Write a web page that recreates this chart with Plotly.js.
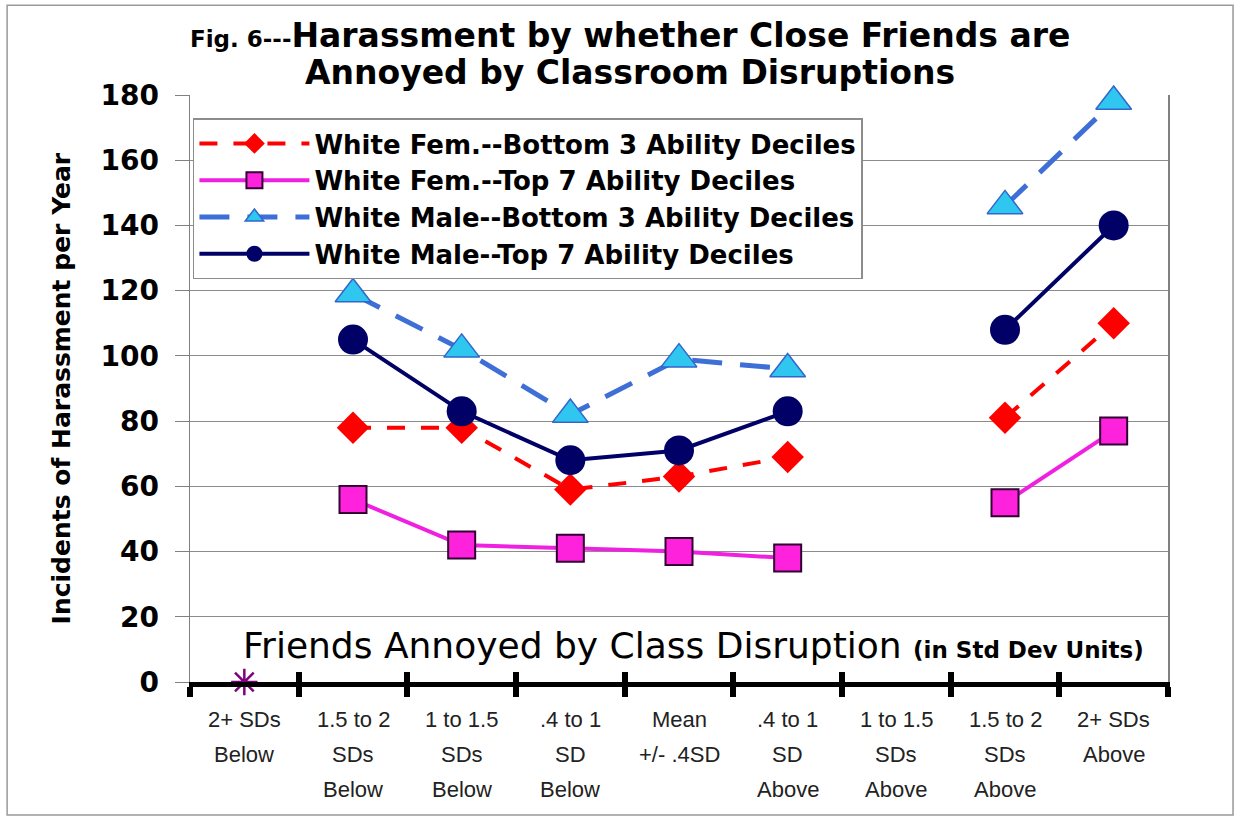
<!DOCTYPE html>
<html>
<head>
<meta charset="utf-8">
<script src="https://cdn.plot.ly/plotly-3.0.1.min.js"></script>
<style>
  html, body { margin: 0; padding: 0; background: #fff; }
  #chart { width: 1235px; height: 818px; }
</style>
</head>
<body>
<div id="chart"></div>
<script>
// Fig. 6 - harassment by friends' annoyance with class disruption

const categories = ['2+ SDs Below', '1.5 to 2 SDs Below', '1 to 1.5 SDs Below', '.4 to 1 SD Below',
    'Mean +/- .4SD', '.4 to 1 SD Above', '1 to 1.5 SDs Above', '1.5 to 2 SDs Above', '2+ SDs Above'];
const tickLines = [
    ['2+ SDs', 'Below'],
    ['1.5 to 2', 'SDs', 'Below'],
    ['1 to 1.5', 'SDs', 'Below'],
    ['.4 to 1', 'SD', 'Below'],
    ['Mean', '+/- .4SD'],
    ['.4 to 1', 'SD', 'Above'],
    ['1 to 1.5', 'SDs', 'Above'],
    ['1.5 to 2', 'SDs', 'Above'],
    ['2+ SDs', 'Above']
];

const femBottom  = [null, 78, 78, 59, 63, 69, null, 81, 110];
const femTop     = [null, 56, 42, 41, 40, 38, null, 55, 77];
const maleBottom = [null, 119, 102, 82, 99, 96, null, 146, 178];
const maleTop    = [null, 105, 83, 68, 71, 83, null, 108, 140];
const starX = ['2+ SDs Below'];
const starY = [0];

const seriesNames = [
    'White Fem.--Bottom 3 Ability Deciles',
    'White Fem.--Top 7 Ability Deciles',
    'White Male--Bottom 3 Ability Deciles',
    'White Male--Top 7 Ability Deciles'
];

const BOLD = 'DejaVu Sans, Arial';

const data = [
    {
        x: categories, y: femBottom, name: seriesNames[0], cliponaxis: false,
        type: 'scatter', mode: 'lines+markers', connectgaps: false,
        line: { color: '#ff0000', width: 4, dash: '18px,16px' },
        marker: { symbol: 'diamond', size: 25, color: '#ff0000' }
    },
    {
        x: categories, y: femTop, name: seriesNames[1], cliponaxis: false,
        type: 'scatter', mode: 'lines+markers', connectgaps: false,
        line: { color: '#f020e0', width: 4 },
        marker: { symbol: 'square', size: 27, color: '#ff22dd', line: { color: '#330033', width: 2 } }
    },
    {
        x: categories, y: maleBottom, name: seriesNames[2], cliponaxis: false,
        type: 'scatter', mode: 'lines+markers', connectgaps: false,
        line: { color: '#3d6fd6', width: 5, dash: '30px,18px' },
        marker: { symbol: 'triangle-up', size: 31, color: '#2fc6ef', line: { color: '#3366cc', width: 1.5 } }
    },
    {
        x: categories, y: maleTop, name: seriesNames[3], cliponaxis: false,
        type: 'scatter', mode: 'lines+markers', connectgaps: false,
        line: { color: '#000066', width: 4 },
        marker: { symbol: 'circle', size: 30, color: '#000066' }
    },
    {
        x: starX, y: starY, showlegend: false, cliponaxis: false,
        type: 'scatter', mode: 'markers',
        marker: { symbol: 'asterisk-open', size: 22, color: '#800080', line: { color: '#800080', width: 2.5 } }
    },
    // carries the upper half of the boundary ticks
    {
        x: categories, y: categories.map(() => null), xaxis: 'x2',
        showlegend: false, hoverinfo: 'skip', type: 'scatter', mode: 'markers'
    }
];

// x tick labels, one annotation per line for the wide line spacing
const annotations = [];
tickLines.forEach((lines, i) => {
    lines.forEach((txt, j) => {
        annotations.push({
            x: categories[i], xref: 'x', y: -0.0647 - j * 0.0596, yref: 'paper',
            text: txt, showarrow: false, xanchor: 'center', yanchor: 'middle',
            font: { family: 'Liberation Sans, Arial', size: 22, color: '#222' }
        });
    });
});

annotations.push(
    {
        x: 0.45, xref: 'paper', y: 1.102, yref: 'paper', showarrow: false,
        xanchor: 'center', yanchor: 'middle',
        text: '<span style="font-size:23px">Fig. 6---</span>Harassment by whether Close Friends are',
        font: { family: BOLD, size: 33, color: '#000', weight: 'bold' }
    },
    {
        x: 0.45, xref: 'paper', y: 1.0375, yref: 'paper', showarrow: false,
        xanchor: 'center', yanchor: 'middle',
        text: 'Annoyed by Classroom Disruptions',
        font: { family: BOLD, size: 33, color: '#000', weight: 'bold' }
    },
    {
        x: 0.515, xref: 'paper', y: 0.063, yref: 'paper', showarrow: false,
        xanchor: 'center', yanchor: 'middle',
        text: 'Friends Annoyed by Class Disruption <span style="font-size:23px"><b>(in Std Dev Units)</b></span>',
        font: { family: BOLD, size: 36, color: '#000' }
    },
    {
        x: -0.131, xref: 'paper', y: 0.5, yref: 'paper', showarrow: false,
        xanchor: 'center', yanchor: 'middle', textangle: -90,
        text: 'Incidents of Harassment per Year',
        font: { family: BOLD, size: 25, color: '#000', weight: 'bold' }
    }
);

const xBase = {
    type: 'category', categoryorder: 'array', categoryarray: categories,
    range: [-0.5, 8.5], tickson: 'boundaries', ticklen: 10, tickwidth: 6,
    tickcolor: '#000', showticklabels: false, showgrid: false, zeroline: false,
    fixedrange: true
};

const layout = {
    width: 1235, height: 818,
    margin: { l: 190, r: 67, t: 95, b: 136 },
    paper_bgcolor: '#fff', plot_bgcolor: '#fff',
    showlegend: true,
    legend: {
        x: 0.003, y: 0.96, xanchor: 'left', yanchor: 'top',
        bgcolor: '#fff', bordercolor: '#8c8c8c', borderwidth: 1.5,
        itemwidth: 110, tracegroupgap: 0,
        font: { family: BOLD, size: 26, color: '#000', weight: 'bold' }
    },
    xaxis: Object.assign({}, xBase, {
        ticks: 'outside', showline: true, linecolor: '#000', linewidth: 5
    }),
    xaxis2: Object.assign({}, xBase, {
        overlaying: 'x', anchor: 'y', side: 'bottom', ticks: 'inside', showline: false
    }),
    yaxis: {
        range: [0, 180], dtick: 20, fixedrange: true,
        showgrid: true, gridcolor: '#8c8c8c', gridwidth: 1,
        showline: true, linecolor: '#808080', linewidth: 1.5, mirror: true,
        ticks: 'outside', ticklen: 14, tickwidth: 1, tickcolor: '#808080',
        ticklabelstandoff: 10, zeroline: false,
        tickfont: { family: BOLD, size: 28, color: '#000', weight: 'bold' }
    },
    annotations: annotations,
    shapes: [{
        type: 'rect', xref: 'paper', yref: 'paper',
        x0: -0.187, x1: 1.0665, y0: -0.2266, y1: 1.153,
        line: { color: '#999', width: 1.5 }
    }]
};

Plotly.newPlot('chart', data, layout, { staticPlot: true });
</script>
</body>
</html>
